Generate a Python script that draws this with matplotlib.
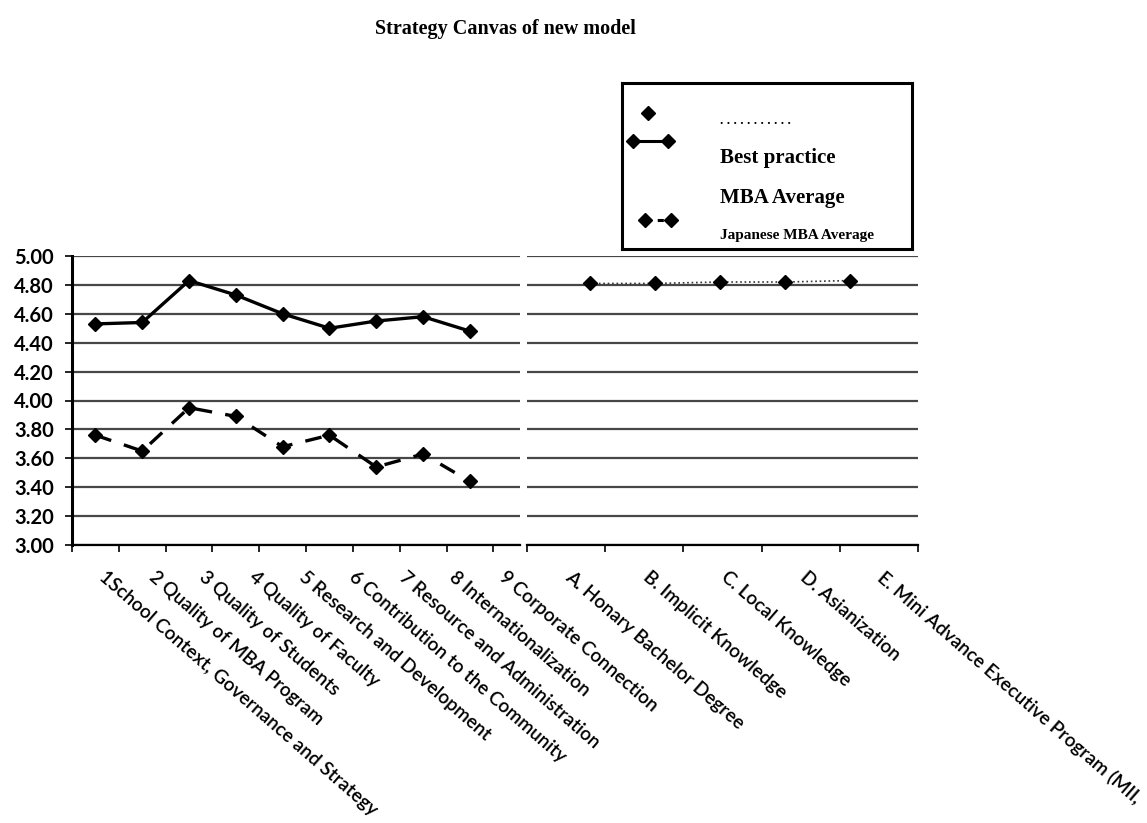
"""Strategy canvas: best practice vs. MBA average on the nine core criteria,
plus the new-model criteria A-E. Writes out.png."""

import matplotlib
matplotlib.use("Agg")
import matplotlib.pyplot as plt
import numpy as np
from matplotlib.lines import Line2D
from matplotlib.transforms import ScaledTranslation

core_criteria = [
    "1School Context, Governance and Strategy",
    "2 Quality of MBA Program",
    "3 Quality of Students",
    "4 Quality of Faculty",
    "5 Research and Development",
    "6 Contribution to the Community",
    "7 Resource and Administration",
    "8 Internationalization",
    "9 Corporate Connection",
]
new_criteria = [
    "A. Honary Bachelor Degree",
    "B. Implicit Knowledge",
    "C. Local Knowledge",
    "D. Asianization",
    "E. Mini Advance Executive Program (MII,",
]
best_practice = [4.53, 4.54, 4.83, 4.73, 4.60, 4.50, 4.55, 4.58, 4.48]
mba_average = [3.76, 3.65, 3.95, 3.89, 3.68, 3.76, 3.54, 3.63, 3.44]
new_model = [4.81, 4.81, 4.82, 4.82, 4.83]
y_ticks = [3.00, 3.20, 3.40, 3.60, 3.80, 4.00, 4.20, 4.40, 4.60, 4.80, 5.00]

W, H = 1147, 823
LABEL_FONT = ["Lato", "DejaVu Sans"]
SERIF = ["Liberation Serif", "DejaVu Serif"]
GRID = "#474747"


def px_rect(x0, y0, x1, y1):
    # pixel box (top-left origin) -> figure fraction rect
    return [x0 / W, 1 - y1 / H, (x1 - x0) / W, (y1 - y0) / H]


def data_axis(fig, rect, xlim):
    ax = fig.add_axes(rect)
    ax.set_ylim(3.0, 5.0)
    ax.set_yticks(y_ticks)
    ax.set_xlim(*xlim)
    ax.grid(axis="y", color=GRID, lw=1.6)
    ax.set_axisbelow(True)
    for s in ("top", "right"):
        ax.spines[s].set_visible(False)
    ax.spines["bottom"].set_linewidth(1.6)
    ax.set_xticks([])
    ax.tick_params(axis="x", which="minor", length=5, width=1.2, direction="out")
    return ax


def label_axis(ax, labels, xlim, dx):
    # category labels on a twin x axis placed along the bottom
    lab = ax.twiny()
    lab.set_xlim(*xlim)
    lab.xaxis.set_ticks_position("bottom")
    for s in lab.spines.values():
        s.set_visible(False)
    lab.set_xticks(np.arange(len(labels)))
    lab.set_xticklabels(labels)
    lab.tick_params(axis="x", length=0, pad=17)
    shift = ScaledTranslation(dx / 100, 0, ax.figure.dpi_scale_trans)
    for lbl in lab.get_xticklabels():
        lbl.set_rotation(-41)
        lbl.set_rotation_mode("anchor")
        lbl.set_ha("left")
        lbl.set_va("top")
        lbl.set_fontsize(13.7)
        lbl.set_family(LABEL_FONT)
        lbl.set_fontweight("semibold")
        lbl.set_transform(lbl.get_transform() + shift)
    return lab


def main():
    fig = plt.figure(figsize=(W / 100, H / 100), dpi=100)
    fig.patch.set_facecolor("white")

    fig.text(505 / W, 1 - 34 / H, "Strategy Canvas of new model", ha="center",
             va="baseline", fontsize=14.5, fontweight="bold", family=SERIF)

    # left panel: the nine core criteria
    ax1 = data_axis(fig, px_rect(72, 256, 520, 545), (-0.5, 9.07))
    x1 = np.arange(len(core_criteria))
    ax1.plot(x1, best_practice, color="black", lw=2.4, marker="D", ms=7)
    ax1.plot(x1, mba_average, color="black", lw=2.4, ls=(0, (5, 4)),
             marker="D", ms=7)
    ax1.set_xticks(np.arange(len(core_criteria) + 1) - 0.5, minor=True)
    ax1.set_yticklabels([f"{v:.2f}" for v in y_ticks])
    ax1.spines["left"].set_linewidth(2.2)
    ax1.tick_params(axis="y", length=5, width=1.2, pad=8, labelsize=14.5)
    for lbl in ax1.get_yticklabels():
        lbl.set_family(LABEL_FONT)
        lbl.set_fontweight("bold")
    label_axis(ax1, core_criteria, (-0.56, 8.4), 7)

    # right panel: new-model criteria A-E
    lim2 = (-0.97, 5.05)
    ax2 = data_axis(fig, px_rect(527, 256, 918, 545), lim2)
    x2 = np.arange(len(new_criteria))
    ax2.plot(x2, new_model, color="#333333", lw=1.2, ls=":", marker="D",
             ms=7, mfc="black", mec="black")
    ax2.set_xticks(np.linspace(lim2[0], lim2[1], len(new_criteria) + 1), minor=True)
    ax2.spines["left"].set_visible(False)
    ax2.tick_params(axis="y", length=0, labelleft=False)
    label_axis(ax2, new_criteria, (-0.5, 4.5), 7)

    # boxed legend
    lg = fig.add_axes(px_rect(622, 83, 912, 249))
    lg.set_xlim(0, 290)
    lg.set_ylim(166, 0)
    lg.set_xticks([])
    lg.set_yticks([])
    for s in lg.spines.values():
        s.set_linewidth(2.2)
    lg.add_line(Line2D([26], [30], marker="D", ms=7, color="black", ls="none"))
    lg.add_line(Line2D([11, 46], [58, 58], marker="D", ms=7, color="black", lw=2.2))
    lg.add_line(Line2D([23, 49], [137, 137], marker="D", ms=7, color="black",
                       lw=2.2, ls=(0, (2, 2))))
    lg.text(98, 38, ". . . . . . . . . . .", fontsize=9.5, va="center",
            family=SERIF, fontweight="bold")
    lg.text(98, 75, "Best practice", fontsize=15, va="center", family=SERIF,
            fontweight="bold")
    lg.text(98, 115, "MBA Average", fontsize=15, va="center", family=SERIF,
            fontweight="bold")
    lg.text(98, 153, "Japanese MBA Average", fontsize=11, va="center",
            family=SERIF, fontweight="bold")

    fig.savefig("out.png", dpi=100, facecolor="white")


if __name__ == "__main__":
    main()
